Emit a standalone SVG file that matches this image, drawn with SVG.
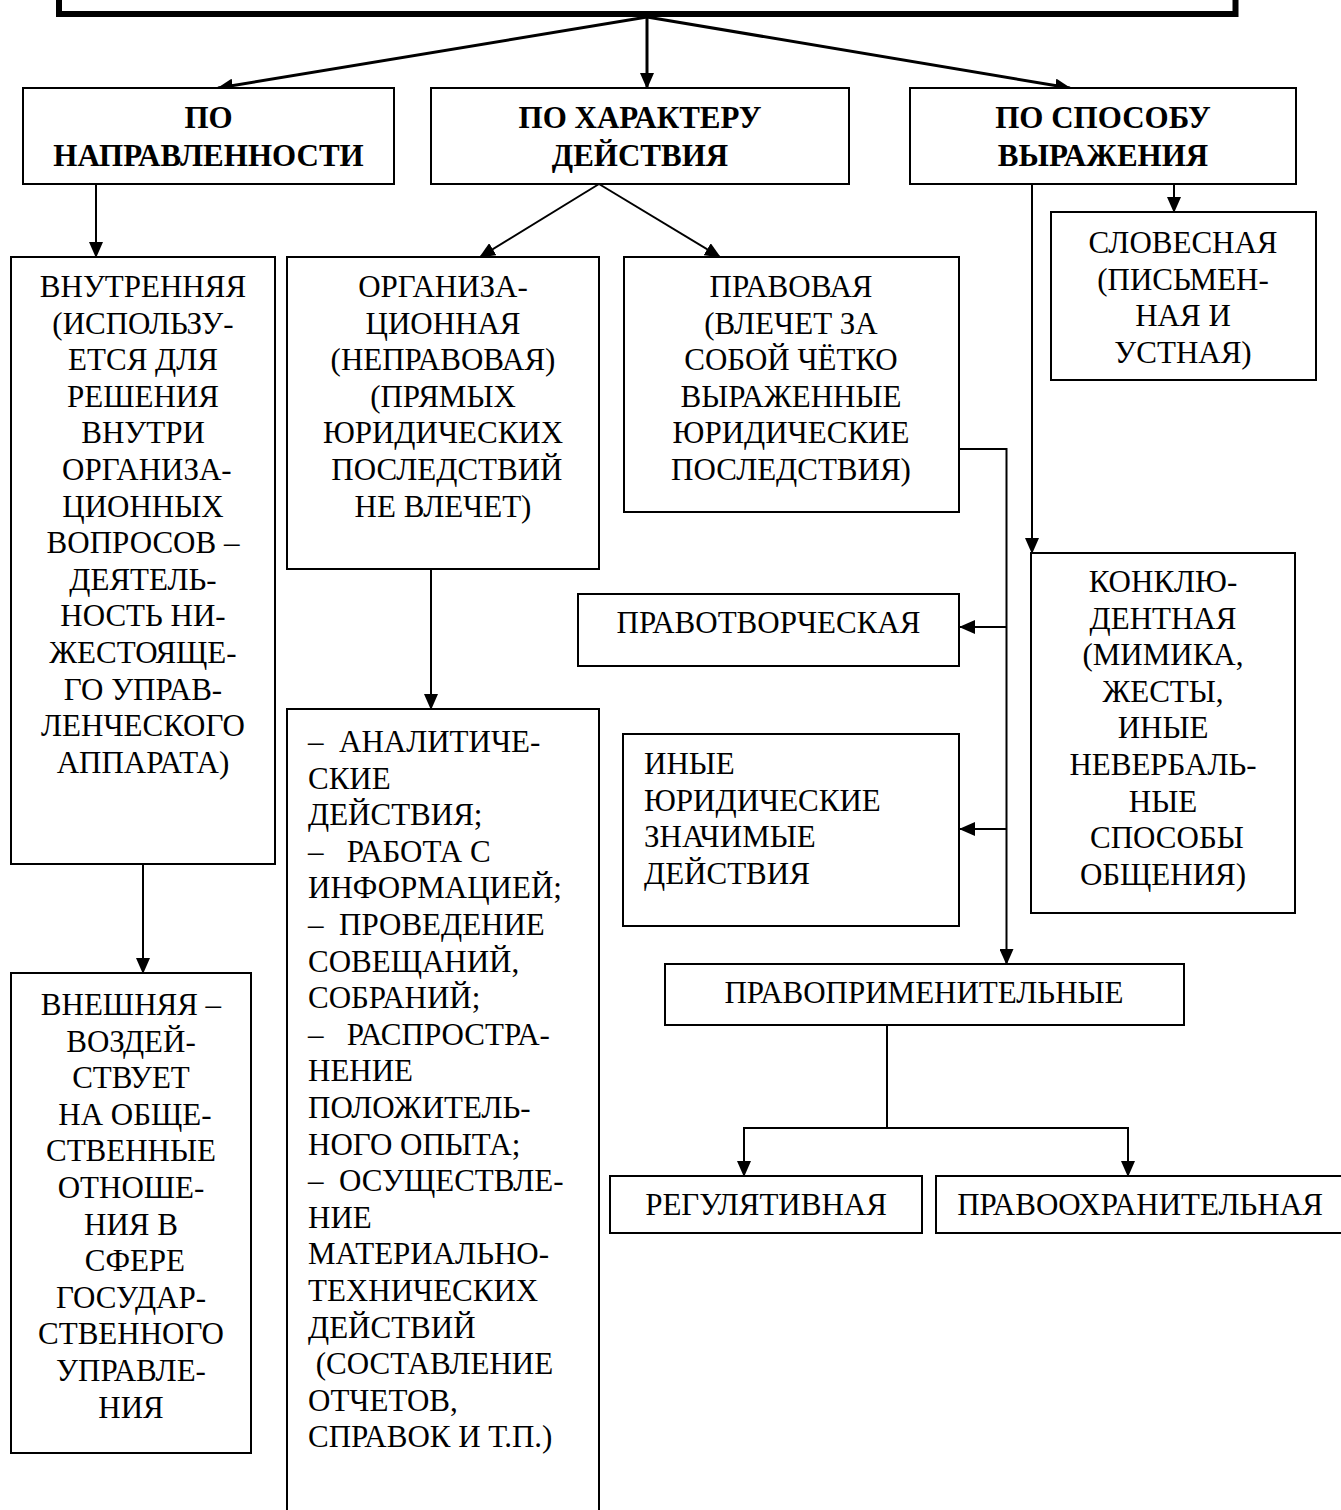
<svg xmlns="http://www.w3.org/2000/svg" width="1341" height="1510" viewBox="0 0 1341 1510">
<style>
.box{fill:#fff;stroke:#000;stroke-width:2}
text{font-family:"Liberation Serif","DejaVu Serif","Times New Roman",serif;font-size:31px;fill:#000;white-space:pre}
.c{text-anchor:middle}
.b{font-weight:bold}
.ln{fill:none;stroke:#000;stroke-width:2}
.lt{fill:none;stroke:#000;stroke-width:3}
</style>
<defs>
<marker id="ah" markerUnits="userSpaceOnUse" markerWidth="16" markerHeight="14" refX="15" refY="7" orient="auto">
<path d="M0,0 L16,7 L0,14 Z" fill="#000"/>
</marker>
</defs>
<rect width="1341" height="1510" fill="#fff"/>

<g id="connectors">
<line class="lt" x1="647" y1="17" x2="218" y2="88" marker-end="url(#ah)"/>
<line class="lt" x1="647" y1="17" x2="647" y2="88" marker-end="url(#ah)"/>
<line class="lt" x1="647" y1="17" x2="1070" y2="88" marker-end="url(#ah)"/>
<line class="ln" x1="96" y1="184" x2="96" y2="257" marker-end="url(#ah)"/>
<line class="ln" x1="599" y1="184" x2="480" y2="257" marker-end="url(#ah)"/>
<line class="ln" x1="599" y1="184" x2="720" y2="257" marker-end="url(#ah)"/>
<line class="ln" x1="1174" y1="184" x2="1174" y2="212" marker-end="url(#ah)"/>
<line class="ln" x1="1032" y1="184" x2="1032" y2="553" marker-end="url(#ah)"/>
<line class="ln" x1="143" y1="864" x2="143" y2="973" marker-end="url(#ah)"/>
<line class="ln" x1="431" y1="569" x2="431" y2="709" marker-end="url(#ah)"/>
<polyline class="ln" points="959,449 1006.5,449 1006.5,964" marker-end="url(#ah)"/>
<line class="ln" x1="1006.5" y1="627" x2="960" y2="627" marker-end="url(#ah)"/>
<line class="ln" x1="1006.5" y1="829" x2="960" y2="829" marker-end="url(#ah)"/>
<line class="ln" x1="887" y1="1025" x2="887" y2="1128"/>
<line class="ln" x1="743" y1="1128" x2="1129" y2="1128"/>
<line class="ln" x1="744" y1="1128" x2="744" y2="1176" marker-end="url(#ah)"/>
<line class="ln" x1="1128" y1="1128" x2="1128" y2="1176" marker-end="url(#ah)"/>
</g>

<g id="n-top">
<rect x="59" y="-30" width="1176.5" height="44" fill="#fff" stroke="#000" stroke-width="6"/>
</g>

<g id="n-napr">
<rect class="box" x="23" y="88" width="371" height="96"/>
<text class="c b" x="208.5" y="128">ПО<tspan x="208.5" y="166">НАПРАВЛЕННОСТИ</tspan></text>
</g>

<g id="n-harakter">
<rect class="box" x="431" y="88" width="418" height="96"/>
<text class="c b" x="640" y="128">ПО ХАРАКТЕРУ<tspan x="640" y="166">ДЕЙСТВИЯ</tspan></text>
</g>

<g id="n-sposob">
<rect class="box" x="910" y="88" width="386" height="96"/>
<text class="c b" x="1103" y="128">ПО СПОСОБУ<tspan x="1103" y="166">ВЫРАЖЕНИЯ</tspan></text>
</g>

<g id="n-vnutr">
<rect class="box" x="11" y="257" width="264" height="607"/>
<text class="c" x="143" y="297">ВНУТРЕННЯЯ<tspan x="143" dy="36.6">(ИСПОЛЬЗУ-</tspan><tspan x="143" dy="36.6">ЕТСЯ ДЛЯ</tspan><tspan x="143" dy="36.6">РЕШЕНИЯ</tspan><tspan x="143" dy="36.6">ВНУТРИ</tspan><tspan x="143" dy="36.6"> ОРГАНИЗА-</tspan><tspan x="143" dy="36.6">ЦИОННЫХ</tspan><tspan x="143" dy="36.6">ВОПРОСОВ –</tspan><tspan x="143" dy="36.6">ДЕЯТЕЛЬ-</tspan><tspan x="143" dy="36.6">НОСТЬ НИ-</tspan><tspan x="143" dy="36.6">ЖЕСТОЯЩЕ-</tspan><tspan x="143" dy="36.6">ГО УПРАВ-</tspan><tspan x="143" dy="36.6">ЛЕНЧЕСКОГО</tspan><tspan x="143" dy="36.6">АППАРАТА)</tspan></text>
</g>

<g id="n-org">
<rect class="box" x="287" y="257" width="312" height="312"/>
<text class="c" x="443" y="297">ОРГАНИЗА-<tspan x="443" dy="36.6">ЦИОННАЯ</tspan><tspan x="443" dy="36.6">(НЕПРАВОВАЯ)</tspan><tspan x="443" dy="36.6">(ПРЯМЫХ</tspan><tspan x="443" dy="36.6">ЮРИДИЧЕСКИХ</tspan><tspan x="443" dy="36.6"> ПОСЛЕДСТВИЙ</tspan><tspan x="443" dy="36.6">НЕ ВЛЕЧЕТ)</tspan></text>
</g>

<g id="n-pravovaya">
<rect class="box" x="624" y="257" width="335" height="255"/>
<text class="c" x="791" y="297">ПРАВОВАЯ<tspan x="791" dy="36.6">(ВЛЕЧЕТ ЗА</tspan><tspan x="791" dy="36.6">СОБОЙ ЧЁТКО</tspan><tspan x="791" dy="36.6">ВЫРАЖЕННЫЕ</tspan><tspan x="791" dy="36.6">ЮРИДИЧЕСКИЕ</tspan><tspan x="791" dy="36.6">ПОСЛЕДСТВИЯ)</tspan></text>
</g>

<g id="n-slovesnaya">
<rect class="box" x="1051" y="212" width="265" height="168"/>
<text class="c" x="1183" y="253">СЛОВЕСНАЯ<tspan x="1183" dy="36.6">(ПИСЬМЕН-</tspan><tspan x="1183" dy="36.6">НАЯ И</tspan><tspan x="1183" dy="36.6">УСТНАЯ)</tspan></text>
</g>

<g id="n-konkl">
<rect class="box" x="1031" y="553" width="264" height="360"/>
<text class="c" x="1163" y="592">КОНКЛЮ-<tspan x="1163" dy="36.6">ДЕНТНАЯ</tspan><tspan x="1163" dy="36.6">(МИМИКА,</tspan><tspan x="1163" dy="36.6">ЖЕСТЫ,</tspan><tspan x="1163" dy="36.6">ИНЫЕ</tspan><tspan x="1163" dy="36.6">НЕВЕРБАЛЬ-</tspan><tspan x="1163" dy="36.6">НЫЕ</tspan><tspan x="1163" dy="36.6"> СПОСОБЫ</tspan><tspan x="1163" dy="36.6">ОБЩЕНИЯ)</tspan></text>
</g>

<g id="n-pravotv">
<rect class="box" x="578" y="594" width="381" height="72"/>
<text class="c" x="768.5" y="633">ПРАВОТВОРЧЕСКАЯ</text>
</g>

<g id="n-inye">
<rect class="box" x="623" y="734" width="336" height="192"/>
<text x="644" y="774">ИНЫЕ<tspan x="644" dy="36.6">ЮРИДИЧЕСКИЕ</tspan><tspan x="644" dy="36.6">ЗНАЧИМЫЕ</tspan><tspan x="644" dy="36.6">ДЕЙСТВИЯ</tspan></text>
</g>

<g id="n-pravoprim">
<rect class="box" x="665" y="964" width="519" height="61"/>
<text class="c" x="924" y="1003">ПРАВОПРИМЕНИТЕЛЬНЫЕ</text>
</g>

<g id="n-regul">
<rect class="box" x="610" y="1176" width="312" height="57"/>
<text class="c" x="766" y="1215">РЕГУЛЯТИВНАЯ</text>
</g>

<g id="n-pravooh">
<rect class="box" x="936" y="1176" width="420" height="57"/>
<text class="c" x="1140" y="1215">ПРАВООХРАНИТЕЛЬНАЯ</text>
</g>

<g id="n-list">
<rect class="box" x="287" y="709" width="312" height="820"/>
<text x="308" y="752">–  АНАЛИТИЧЕ-<tspan x="308" dy="36.6">СКИЕ</tspan><tspan x="308" dy="36.6">ДЕЙСТВИЯ;</tspan><tspan x="308" dy="36.6">–   РАБОТА С</tspan><tspan x="308" dy="36.6">ИНФОРМАЦИЕЙ;</tspan><tspan x="308" dy="36.6">–  ПРОВЕДЕНИЕ</tspan><tspan x="308" dy="36.6">СОВЕЩАНИЙ,</tspan><tspan x="308" dy="36.6">СОБРАНИЙ;</tspan><tspan x="308" dy="36.6">–   РАСПРОСТРА-</tspan><tspan x="308" dy="36.6">НЕНИЕ</tspan><tspan x="308" dy="36.6">ПОЛОЖИТЕЛЬ-</tspan><tspan x="308" dy="36.6">НОГО ОПЫТА;</tspan><tspan x="308" dy="36.6">–  ОСУЩЕСТВЛЕ-</tspan><tspan x="308" dy="36.6">НИЕ</tspan><tspan x="308" dy="36.6">МАТЕРИАЛЬНО-</tspan><tspan x="308" dy="36.6">ТЕХНИЧЕСКИХ</tspan><tspan x="308" dy="36.6">ДЕЙСТВИЙ</tspan><tspan x="308" dy="36.6"> (СОСТАВЛЕНИЕ</tspan><tspan x="308" dy="36.6">ОТЧЕТОВ,</tspan><tspan x="308" dy="36.6">СПРАВОК И Т.П.)</tspan></text>
</g>

<g id="n-vneshn">
<rect class="box" x="11" y="973" width="240" height="480"/>
<text class="c" x="131" y="1015">ВНЕШНЯЯ –<tspan x="131" dy="36.6">ВОЗДЕЙ-</tspan><tspan x="131" dy="36.6">СТВУЕТ</tspan><tspan x="131" dy="36.6"> НА ОБЩЕ-</tspan><tspan x="131" dy="36.6">СТВЕННЫЕ</tspan><tspan x="131" dy="36.6">ОТНОШЕ-</tspan><tspan x="131" dy="36.6">НИЯ В</tspan><tspan x="131" dy="36.6"> СФЕРЕ</tspan><tspan x="131" dy="36.6">ГОСУДАР-</tspan><tspan x="131" dy="36.6">СТВЕННОГО</tspan><tspan x="131" dy="36.6">УПРАВЛЕ-</tspan><tspan x="131" dy="36.6">НИЯ</tspan></text>
</g>
</svg>
